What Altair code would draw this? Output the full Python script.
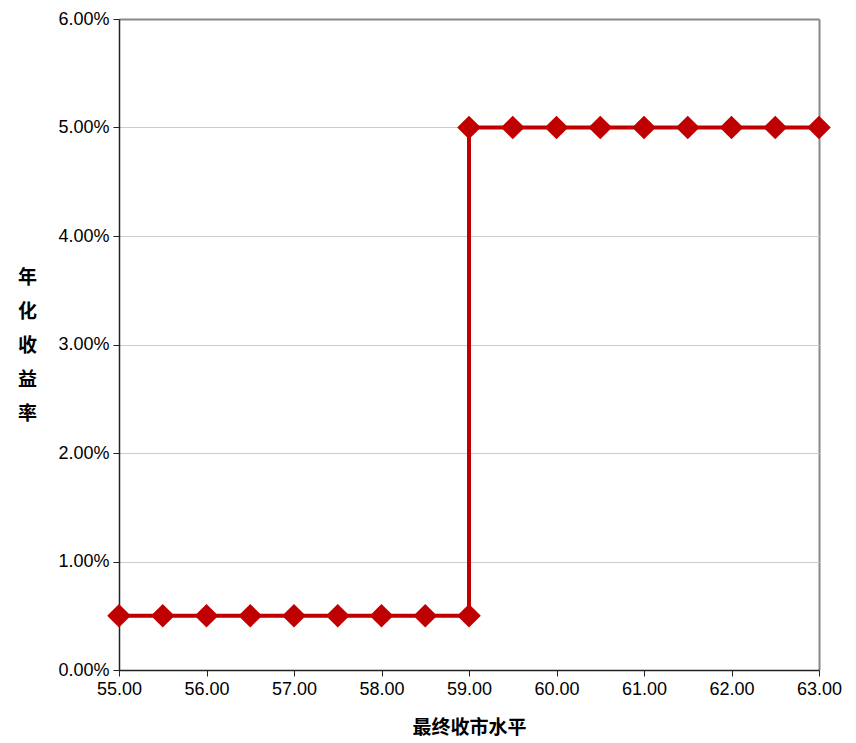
import altair as alt
import pandas as pd

x_vals = [55.0, 55.5, 56.0, 56.5, 57.0, 57.5, 58.0, 58.5, 59.0,
          59.0, 59.5, 60.0, 60.5, 61.0, 61.5, 62.0, 62.5, 63.0]
y_vals = [0.005] * 9 + [0.05] * 9
order = list(range(len(x_vals)))

df = pd.DataFrame({"x": x_vals, "y": y_vals, "o": order})

color = "#C00000"
font = "Liberation Sans"
cjk = "Noto Sans CJK SC"

x_enc = alt.X("x:Q", scale=alt.Scale(domain=[55, 63], nice=False, zero=False),
              axis=alt.Axis(values=[55, 56, 57, 58, 59, 60, 61, 62, 63], format=".2f",
                            title="最终收市水平", titleFont=cjk, titleFontSize=19,
                            titleFontWeight="bold", titleColor="#000",
                            titleY=57, titleBaseline="middle",
                            labelFont=font, labelFontSize=18, labelColor="#000",
                            labelPadding=4, labelFlush=False,
                            grid=True,
                            gridColor={"condition": {"test": "datum.value >= 63", "value": "#888888"}, "value": "transparent"},
                            gridWidth={"condition": {"test": "datum.value >= 63", "value": 2}, "value": 0},
                            domainColor="#222", tickColor="#222", tickSize=6,
                            domainWidth=1.5))
y_enc = alt.Y("y:Q", scale=alt.Scale(domain=[0, 0.06], nice=False),
              axis=alt.Axis(values=[0, 0.01, 0.02, 0.03, 0.04, 0.05, 0.06], format=".2%",
                            title=["年", "化", "收", "益", "率"], titleAngle=0,
                            titleFont=cjk, titleFontSize=19, titleFontWeight="bold",
                            titleColor="#000", titleLineHeight=34,
                            titleX=-92, titleY=258, titleAlign="center",
                            titleBaseline="middle",
                            labelFont=font, labelFontSize=18, labelColor="#000",
                            labelPadding=4, labelFlush=False,
                            grid=True,
                            gridColor={"condition": {"test": "datum.value >= 0.06", "value": "#888888"}, "value": "#CCCCCC"},
                            gridWidth={"condition": {"test": "datum.value >= 0.06", "value": 2}, "value": 1},
                            domainColor="#222", tickColor="#222", tickSize=6,
                            domainWidth=1.5))

base = alt.Chart(df).encode(x=x_enc, y=y_enc, order="o:Q")

line = base.mark_line(color=color, strokeWidth=4)
pts = base.mark_point(shape="diamond", filled=True, size=560, color=color, opacity=1)

chart = (line + pts).properties(
    width=700, height=651,
    autosize=alt.AutoSizeParams(type="none"),
    padding={"left": 111, "top": 11, "right": 29, "bottom": 72},
).configure_view(stroke="#888888", strokeWidth=2).configure(background="white")

chart.save("out.html", embed_options={"renderer": "svg", "actions": False})
